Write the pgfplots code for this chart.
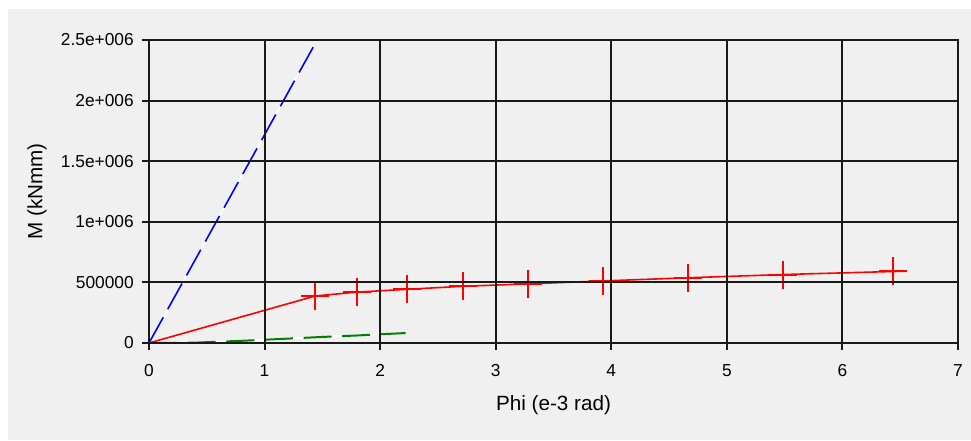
\documentclass[border=0pt]{standalone}
\usepackage{pgfplots}
\pgfplotsset{compat=1.18}
\usepackage{fontspec}
\setmainfont{Liberation Sans}
\definecolor{bggray}{HTML}{F0F0F0}
\definecolor{dgreen}{HTML}{008000}
\begin{document}
\begin{tikzpicture}
\fill[white] (-111.75pt,-73.5pt) rectangle (616.5pt,257.25pt);
\fill[bggray] (-105.75pt,-72.75pt) rectangle (616.5pt,250.5pt);
\begin{axis}[
  at={(0pt,0pt)}, anchor=south west,
  width=606.75pt, height=227.25pt, scale only axis,
  xmin=0, xmax=7, ymin=0, ymax=2500000,
  xtick={0,1,2,3,4,5,6,7},
  xticklabels={0,1,2,3,4,5,6,7},
  ytick={0,500000,1000000,1500000,2000000,2500000},
  yticklabels={0,500000,1e+006,1.5e+006,2e+006,2.5e+006},
  /pgf/number format/assume math mode=true,
  scaled ticks=false,
  grid=major,
  major grid style={black!90, line width=1.4pt},
  axis line style={black!90, line width=1.4pt},
  tick style={black!90, line width=1.4pt},
  tick align=outside, major tick length=5.25pt,
  xtick pos=left, ytick pos=left,
  axis on top,
  clip marker paths=true,
  ticklabel style={font=\fontsize{13}{15}\selectfont, text=black},
  xticklabel style={inner sep=0pt, anchor=north, yshift=-10.5pt},
  yticklabel style={inner sep=0pt, anchor=east, xshift=-6pt},
  xlabel={Phi (e-3 rad)},
  ylabel={M (kNmm)},
  label style={font=\fontsize{15.5}{18}\selectfont},
  xlabel style={at={(axis description cs:0.5,0)}, anchor=north, inner sep=0pt, yshift=-39pt},
  ylabel style={at={(axis description cs:0,0.5)}, anchor=center, inner sep=0pt, yshift=84pt},
]
% blue dashed (white gaps)
\addplot[white, line width=1.2pt] coordinates {(0,0) (1.42,2440000)};
\addplot[blue, line width=1.2pt, dash pattern=on 22pt off 7pt] coordinates {(0,0) (1.42,2440000)};
% green dashed (white gaps)
\addplot[white, line width=1.5pt] coordinates {(0,0) (0.4,3000) (0.8,18000) (1.2,36000) (1.5,50000) (1.8,62000) (2.0,72000) (2.22,82000)};
\addplot[dgreen, line width=1.5pt, dash pattern=on 21pt off 8pt] coordinates {(0,0) (0.4,3000) (0.8,18000) (1.2,36000) (1.5,50000) (1.8,62000) (2.0,72000) (2.22,82000)};
% red line
\addplot[red, line width=1.2pt] coordinates {(0,0) (1.38,372000) (1.44,388000) (1.80,420000) (2.23,443000) (2.72,468000) (3.28,488000) (3.93,512000) (4.66,538000) (5.49,565000) (6.44,590000) (6.56,592000)};
\addplot[red, line width=1.5pt, only marks, mark=+, mark size=10.5pt, mark options={red, solid}] coordinates {(0,0) (1.44,388000) (1.80,420000) (2.23,443000) (2.72,468000) (3.28,488000) (3.93,512000) (4.66,538000) (5.49,565000) (6.44,590000)};
\end{axis}
\end{tikzpicture}
\end{document}
